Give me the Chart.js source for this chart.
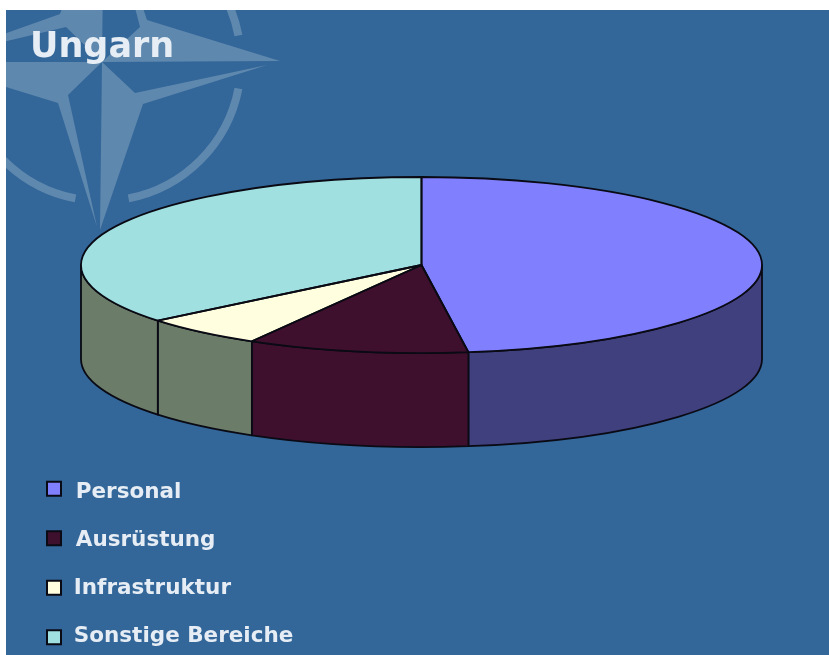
<!DOCTYPE html>
<html>
<head>
<meta charset="utf-8">
<style>
html,body{margin:0;padding:0;background:#fff;width:829px;height:655px;overflow:hidden}
#panel{position:absolute;left:6px;top:10px;width:823px;height:645px;background:#336699}
#c{position:absolute;left:0;top:0}
</style>
<script src="https://cdn.jsdelivr.net/npm/chart.js@4/dist/chart.umd.min.js"></script>
</head>
<body>
<div id="panel"></div>
<canvas id="c" width="829" height="655"></canvas>
<script>
const titleText = 'Ungarn';
const categories = ['Personal', 'Ausrüstung', 'Infrastruktur', 'Sonstige Bereiche'];
const shares = [47.8, 10.5, 5.8, 35.9];
const topColors = ['#8080FF', '#3F102D', '#FFFFE0', '#A0E0E0'];
const wallColors = ['#40407F', '#3F102D', '#6B7D68', '#6B7D68'];
const textColor = '#E6EDF4';
const emblemColor = '#5F88AE';
const ink = '#0A0A14';
const legendTextNudgeX = [4, 4, 2, 2];
const legendTextNudgeY = [4, 2, 1, -1];

const pie = {cx: 421.5, cy: 265, rx: 340.5, ry: 88, depth: 94};

const emblem = {
  id: 'emblem',
  beforeDraw(chart) {
    const ctx = chart.ctx;
    const C = [102, 62];
    const e = [280, 61], s = [100, 230], w = [-76, 62], n = [104, -106];
    ctx.save();
    ctx.beginPath(); ctx.rect(6, 10, 823, 645); ctx.clip();
    ctx.fillStyle = emblemColor;
    const poly = pts => { ctx.beginPath(); pts.forEach((p, i) => i ? ctx.lineTo(p[0], p[1]) : ctx.moveTo(p[0], p[1])); ctx.closePath(); ctx.fill(); };
    poly([C, [140, 27], [107, -100], [147, 20], e]);
    poly([C, [135, 93], [267, 65], [143, 104], s]);
    poly([C, [68, 95], [97, 227], [58, 103], w]);
    poly([C, [66, 27], [-64, 58], [60, 14], n]);
    const a = Math.PI / 180;
    ctx.strokeStyle = emblemColor; ctx.lineWidth = 8; ctx.lineCap = 'butt';
    for (let k = 0; k < 4; k++) {
      ctx.beginPath();
      ctx.arc(C[0], C[1], 139, (11 + 90 * k) * a, (79 + 90 * k) * a);
      ctx.stroke();
    }
    ctx.restore();
  }
};

function outlineStyle(ctx) { ctx.strokeStyle = ink; ctx.lineWidth = 1.8; ctx.lineJoin = 'round'; }

const squash = {
  id: 'squash',
  afterLayout(chart) {
    if (chart.titleBlock) { chart.titleBlock.left = 30; }
    const lg = chart.legend;
    if (lg && !lg._nudged) {
      lg._nudged = true;
      const draw = lg.draw.bind(lg);
      lg.draw = function () {
        const ctx = chart.ctx, base = ctx.fillText;
        ctx.fillText = function (t, x, y, m) {
          const i = categories.indexOf(t);
          const nx = x + (legendTextNudgeX[i] || 0), ny = y + (legendTextNudgeY[i] || 0);
          return m === undefined ? base.call(ctx, t, nx, ny) : base.call(ctx, t, nx, ny, m);
        };
        draw();
        delete ctx.fillText;
      };
    }
  },
  beforeDatasetsDraw(chart) {
    const ctx = chart.ctx;
    const arcs = chart.getDatasetMeta(0).data;
    // walls: only the front half of the rim is visible
    ctx.save();
    outlineStyle(ctx);
    arcs.forEach((arc, i) => {
      const from = Math.max(arc.startAngle, 0), to = Math.min(arc.endAngle, Math.PI);
      if (to <= from) return;
      ctx.beginPath();
      ctx.ellipse(pie.cx, pie.cy, pie.rx, pie.ry, 0, from, to);
      ctx.lineTo(pie.cx + pie.rx * Math.cos(to), pie.cy + pie.ry * Math.sin(to) + pie.depth);
      ctx.ellipse(pie.cx, pie.cy + pie.depth, pie.rx, pie.ry, 0, to, from, true);
      ctx.closePath();
      ctx.fillStyle = wallColors[i];
      ctx.fill();
      ctx.stroke();
    });
    ctx.restore();
    const a = arcs[0];
    ctx.save();
    ctx.translate(pie.cx, pie.cy);
    ctx.scale(pie.rx / a.outerRadius, pie.ry / a.outerRadius);
    ctx.translate(-a.x, -a.y);
  },
  afterDatasetsDraw(chart) {
    const ctx = chart.ctx;
    ctx.restore();
    ctx.save();
    outlineStyle(ctx);
    chart.getDatasetMeta(0).data.forEach(arc => {
      ctx.beginPath();
      ctx.moveTo(pie.cx, pie.cy);
      ctx.ellipse(pie.cx, pie.cy, pie.rx, pie.ry, 0, arc.startAngle, arc.endAngle);
      ctx.closePath();
      ctx.stroke();
    });
    ctx.restore();
  }
};

new Chart(document.getElementById('c'), {
  type: 'pie',
  data: {
    labels: categories,
    datasets: [{data: shares, backgroundColor: topColors, borderWidth: 0}]
  },
  plugins: [emblem, squash],
  options: {
    responsive: false,
    animation: false,
    layout: {padding: {left: 19, top: 18, bottom: -21, right: 0}},
    plugins: {
      tooltip: {enabled: false},
      title: {
        display: true,
        text: titleText,
        align: 'start',
        color: textColor,
        font: {family: '"DejaVu Sans"', size: 35, weight: 'bold'},
        padding: {top: 9, bottom: 0}
      },
      legend: {
        position: 'left',
        align: 'end',
        labels: {
          color: textColor,
          font: {family: '"DejaVu Sans"', size: 21.5, weight: 'bold'},
          boxWidth: 14,
          boxHeight: 14,
          padding: 28,
          generateLabels(chart) {
            return categories.map((t, i) => ({
              text: t, fillStyle: topColors[i], strokeStyle: ink, lineWidth: 2,
              fontColor: textColor, hidden: false, index: i
            }));
          }
        }
      }
    }
  }
});
</script>
</body>
</html>
